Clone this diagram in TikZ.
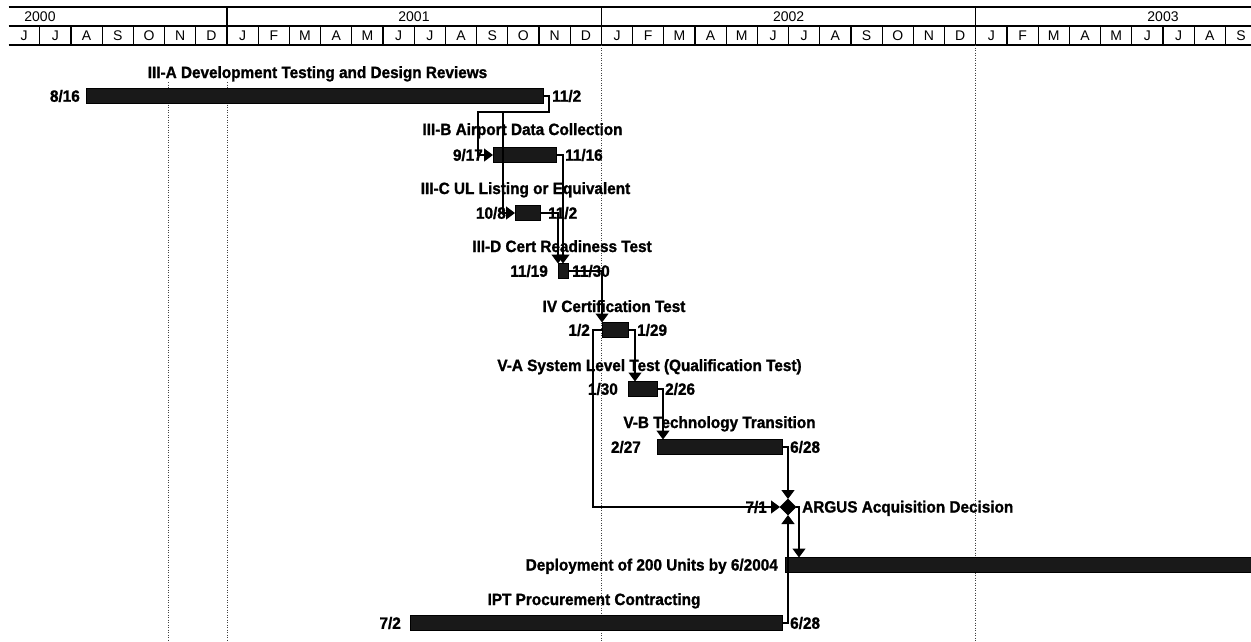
\documentclass[tikz,border=0pt]{standalone}
\usepackage{fontspec}
\setmainfont{Liberation Sans}[BoldFeatures={FakeStretch=0.94,FakeBold=1.3}]
\usetikzlibrary{arrows.meta,shapes.geometric,calc}
\begin{document}
\begin{tikzpicture}[x=1pt,y=-1pt,
  hdr/.style={line width=1.1pt},
  gridln/.style={line width=0.9pt, black!75, dash pattern=on 1.2pt off 1.3pt},
  bar/.style={draw=black, fill=black!90, line width=0.4pt, minimum height=15pt, inner sep=0pt, outer sep=0pt, anchor=west},
  ttl/.style={font=\fontsize{16.3}{19}\selectfont\bfseries, inner sep=0pt, anchor=base},
  dt/.style={font=\fontsize{16.3}{19}\selectfont\bfseries, inner sep=0pt},
  link/.style={line width=1.3pt, -{Triangle[width=13pt,length=9pt]}},
  yr/.style={font=\fontsize{14}{16}\selectfont, inner sep=0pt},
  mon/.style={font=\fontsize{14}{16}\selectfont, inner sep=0pt},
  ms/.style={diamond, fill=black, draw=black, minimum width=16pt, minimum height=16pt, inner sep=0pt, outer sep=0pt}]
\fill[white] (0,0) rectangle (1251,641);
\useasboundingbox (0,0) rectangle (1251,641);

% header
\draw[hdr] (8.6,7) -- (1251,7);
\draw[hdr] (8.6,26) -- (1251,26);
\draw[hdr] (8.6,45) -- (1251,45);
\foreach \x in {227,601.4,975.8} \draw[hdr] (\x,7) -- (\x,26);
\foreach \k in {-6,...,32} \draw[hdr] ({227+31.2*\k},26) -- ({227+31.2*\k},45);
\node[yr] (y2000) at (40,16.5) {2000};
\node[yr] (y2001) at (414,16.5) {2001};
\node[yr] (y2002) at (788.6,16.5) {2002};
\node[yr] (y2003) at (1163,16.5) {2003};
\foreach \m [count=\i] in {J,J,A,S,O,N,D,J,F,M,A,M,J,J,A,S,O,N,D,J,F,M,A,M,J,J,A,S,O,N,D,J,F,M,A,M,J,J,A,S}
  \node[mon] (mo\i) at ({227+31.2*(\i-8)+15.6},36) {\m};

% grid lines
\draw[gridln] (168,82) -- (168,641);
\draw[gridln] (227,82) -- (227,641);
\draw[gridln] (601.4,45) -- (601.4,641);
\draw[gridln] (975.8,45) -- (975.8,641);

% bars
\node[bar, minimum width=457pt] (A) at (86,96) {};
\node[bar, minimum width=63pt] (B) at (493,155) {};
\node[bar, minimum width=25pt] (C) at (515,213) {};
\node[bar, minimum width=10pt] (D) at (558,271) {};
\node[bar, minimum width=26pt] (IV) at (602,330) {};
\node[bar, minimum width=29pt] (VA) at (628,389) {};
\node[bar, minimum width=125pt] (VB) at (657,447) {};
\node[ms] (M) at (788,507) {};
\node[bar, minimum width=466pt] (Dep) at (785,565) {};
\node[bar, minimum width=372pt] (IPT) at (410,623) {};

% titles
\node[ttl] (tA) at ($(A.center)+(3,-18)$) {III-A Development Testing and Design Reviews};
\node[ttl] (tB) at ($(B.center)+(-2,-20)$) {III-B Airport Data Collection};
\node[ttl] (tC) at ($(C.center)+(-2,-19)$) {III-C UL Listing or Equivalent};
\node[ttl] (tD) at ($(D.center)+(-1,-19)$) {III-D Cert Readiness Test};
\node[ttl] (tIV) at ($(IV.center)+(-1,-18)$) {IV Certification Test};
\node[ttl] (tVA) at ($(VA.center)+(7,-18)$) {V-A System Level Test (Qualification Test)};
\node[ttl] (tVB) at ($(VB.center)+(0,-19)$) {V-B Technology Transition};
\node[ttl, anchor=base west] (tM) at (802,512.5) {ARGUS Acquisition Decision};
\node[ttl, anchor=base east] (tDep) at (778,570.5) {Deployment of 200 Units by 6/2004};
\node[ttl] (tIPT) at ($(IPT.center)+(-2,-18)$) {IPT Procurement Contracting};

% dates
\node[dt, anchor=east] (sA) at (80,96) {8/16};
\node[dt, anchor=west] (eA) at (552,96) {11/2};
\node[dt, anchor=east] (sB) at (483,155) {9/17};
\node[dt, anchor=west] (eB) at (565,155) {11/16};
\node[dt, anchor=east] (sC) at (506,213) {10/8};
\node[dt, anchor=west] (eC) at (548,213) {11/2};
\node[dt, anchor=east] (sD) at (548,271) {11/19};
\node[dt, anchor=west] (eD) at (572,271) {11/30};
\node[dt, anchor=east] (sIV) at (590,330) {1/2};
\node[dt, anchor=west] (eIV) at (637,330) {1/29};
\node[dt, anchor=east] (sVA) at (618,389) {1/30};
\node[dt, anchor=west] (eVA) at (665,389) {2/26};
\node[dt, anchor=east] (sVB) at (641,447) {2/27};
\node[dt, anchor=west] (eVB) at (790,447) {6/28};
\node[dt, anchor=east] (sM) at (767,507) {7/1};
\node[dt, anchor=east] (sIPT) at (401,623) {7/2};
\node[dt, anchor=west] (eIPT) at (790,623) {6/28};

% connectors
\coordinate (jab) at (478,112);
\coordinate (jac) at (503,112);
\draw[link] (A.east) -- ++(6,0) |- (jab) |- (B.west);
\draw[link] (A.east) -- ++(6,0) |- (jac) |- (C.west);
\draw[link] (B.east) -| (D.north);
\draw[link] (C.east) -| ($(D.north)+(-5,0)$);
\draw[link] (D.east) -| (IV.north west);
\draw[link] (IV.east) -| ($(VA.north west)+(7,0)$);
\draw[link] (VA.east) -| ($(VB.north west)+(6,0)$);
\draw[link] (VB.east) -| (M.north);
\draw[link] (IV.west) -- ++(-9,0) |- (M.west);
\draw[link] (IPT.east) -| (M.south);
\draw[link] (M.east) -| ($(Dep.north west)+(14,0)$);
\end{tikzpicture}
\end{document}
